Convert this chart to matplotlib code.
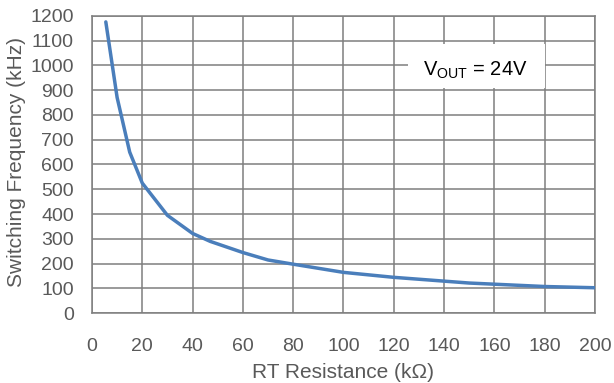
import matplotlib.pyplot as plt
from matplotlib.patches import Rectangle

plt.rcParams['font.family'] = ['Liberation Sans', 'DejaVu Sans']
plt.rcParams['mathtext.default'] = 'regular'

# RT resistor (kOhm) vs switching frequency (kHz)
rt_kohm = [5.5, 10, 15, 20, 25, 30, 40, 47, 60, 70, 80, 100, 120, 150, 180, 200]
freq_khz = [1175, 870, 650, 525, 460, 395, 322, 290, 245, 215, 198, 165, 145, 122, 108, 103]

x_ticks = list(range(0, 201, 20))
y_ticks = list(range(0, 1201, 100))

grey = '#7f7f7f'
text_grey = '#595959'

fig = plt.figure(figsize=(6.14, 3.83), dpi=100)
ax = fig.add_axes([0.1498, 0.182, 0.8192, 0.777])

ax.plot(rt_kohm, freq_khz, color='#4a7ebb', lw=2.5, solid_capstyle='round', zorder=3)

ax.set_xlim(0, 200)
ax.set_ylim(0, 1200)
ax.set_xticks(x_ticks)
ax.set_yticks(y_ticks)
ax.grid(True, color=grey, lw=1.1)
ax.set_axisbelow(True)
for s in ax.spines.values():
    s.set_color(grey)
    s.set_linewidth(1.1)
ax.tick_params(length=0, labelsize=14, labelcolor=text_grey)
ax.tick_params(axis='y', pad=13)
ax.tick_params(axis='x', pad=18)

# axis titles
fig.text(343.5 / 614, 1 - 372 / 383, 'RT Resistance (k\u03a9)', fontsize=15,
         color=text_grey, ha='center', va='center')
fig.text(17 / 614, 1 - 162 / 383, 'Switching Frequency (kHz)', fontsize=15,
         color=text_grey, ha='center', va='center', rotation=90)

# label box over the grid
box = Rectangle((408 / 614, 1 - 88 / 383), 137 / 614, 44 / 383,
                transform=fig.transFigure, facecolor='white', edgecolor='none', zorder=4)
fig.patches.append(box)
fig.text(475 / 614, 1 - 70 / 383, '$V_{OUT}$ = 24V', fontsize=14.5, color='black',
         ha='center', va='center', zorder=5)

fig.savefig('out.png', dpi=100)
